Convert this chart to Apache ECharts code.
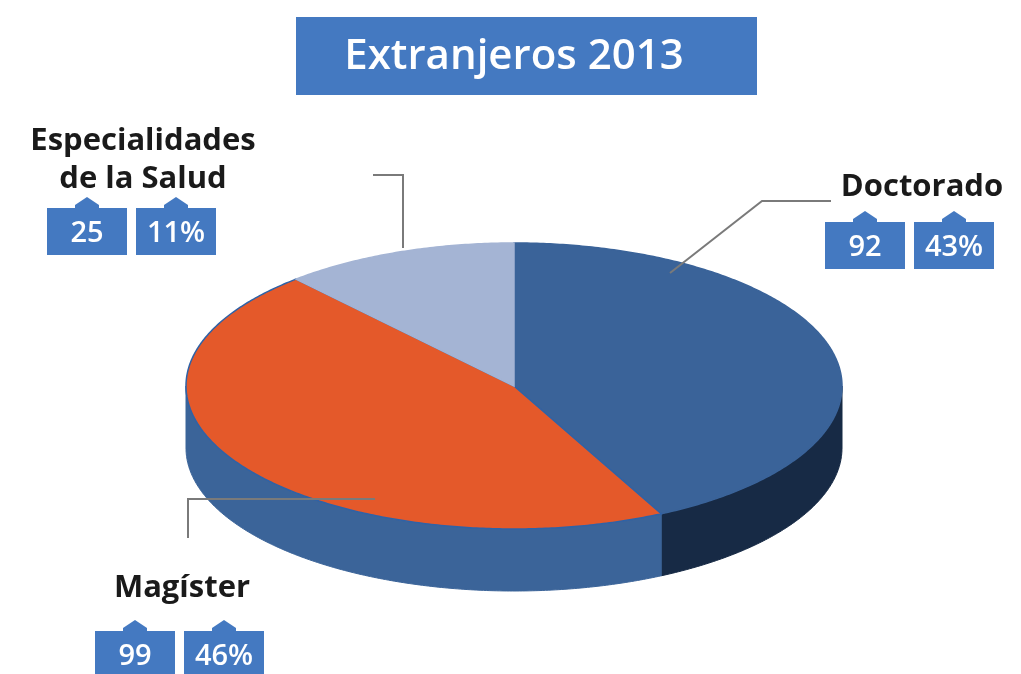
<!DOCTYPE html>
<html>
<head>
<meta charset="utf-8">
<title>Extranjeros 2013</title>
<script src="https://cdn.jsdelivr.net/npm/echarts@6/dist/echarts.min.js"></script>
<style>
html, body { margin: 0; padding: 0; background: #fff; }
#chart { width: 1021px; height: 674px; }
</style>
</head>
<body>
<div id="chart"></div>
<script>
var title = 'Extranjeros 2013';
var categories = ['Doctorado', 'Magíster', 'Especialidades\nde la Salud'];
var values = [92, 99, 25];
var percents = ['43%', '46%', '11%'];

var topColors = ['#3a6399', '#e4592a', '#a4b4d4'];
var sideColors = ['#172a45', '#3b6499', '#7f93b8'];
var boxColor = '#4479c1';

// pie geometry (tilted ellipse)
var cx = 514, cy = 386, rx = 328, ry = 143, depth = 62;

var total = values.reduce(function (a, b) { return a + b; }, 0);
var starts = [];
var acc = 0;
values.forEach(function (v) { starts.push(acc / total * Math.PI * 2); acc += v; });

function pt(a, dy) {
    return [cx + rx * Math.sin(a), cy - ry * Math.cos(a) + (dy || 0)];
}

function arc(a1, a2, dy) {
    var pts = [];
    var n = Math.max(2, Math.ceil((a2 - a1) / 0.01));
    for (var k = 0; k <= n; k++) pts.push(pt(a1 + (a2 - a1) * k / n, dy));
    return pts;
}

function sideItem(params) {
    var i = params.dataIndex;
    var a1 = Math.max(starts[i], Math.PI / 2);
    var a2 = Math.min(starts[i] + values[i] / total * Math.PI * 2, Math.PI * 3 / 2);
    if (a2 <= a1) return;
    var pts = arc(a1, a2, 0).concat(arc(a1, a2, depth).reverse());
    return {
        type: 'polygon',
        shape: { points: pts },
        style: { fill: sideColors[i], stroke: sideColors[i], lineWidth: 1 }
    };
}

function topItem(params) {
    var i = params.dataIndex;
    var a1 = starts[i];
    var a2 = a1 + values[i] / total * Math.PI * 2;
    var pts = [[cx, cy]].concat(arc(a1, a2, 0));
    return {
        type: 'polygon',
        shape: { points: pts },
        style: { fill: topColors[i], stroke: i === 1 ? '#2f62a6' : topColors[i], lineWidth: 1.5 }
    };
}

// label layout: name position, first box position, leader line
var labelLayout = [
    { name: [922, 187], box: [825, 222], line: [[670, 273], [762, 201], [831, 201]] },
    { name: [182, 588], box: [95, 631], line: [[375, 499], [188, 499], [188, 538]] },
    { name: [143, 160], box: [47, 208], line: [[403, 248], [403, 175], [373, 175]] }
];

function box(x, y, text) {
    var w = 80, h = 47, m = x + w / 2;
    return [{
        type: 'polygon',
        shape: { points: [[x, y], [m - 12, y], [m - 12, y - 3], [m, y - 11], [m + 12, y - 3], [m + 12, y], [x + w, y], [x + w, y + h], [x, y + h]] },
        style: { fill: boxColor },
        z: 10
    }, {
        type: 'text',
        x: m, y: y + h / 2 + 2,
        style: { text: text, fill: '#fff', font: '600 29px "Open Sans"', align: 'center', verticalAlign: 'middle' },
        z: 11
    }];
}

var graphics = [{
    type: 'rect',
    shape: { x: 296, y: 17, width: 461, height: 78 },
    style: { fill: boxColor }
}, {
    type: 'text',
    x: 514, y: 57,
    style: { text: title, fill: '#fff', font: '600 42px "Open Sans"', align: 'center', verticalAlign: 'middle' }
}];

categories.forEach(function (c, i) {
    var L = labelLayout[i];
    graphics.push({
        type: 'polyline',
        shape: { points: L.line },
        style: { stroke: '#7a7a7a', lineWidth: 2, fill: null },
        z: 20
    });
    graphics.push({
        type: 'text',
        x: L.name[0], y: L.name[1],
        style: { text: c, fill: '#1a1a1a', font: 'bold 31px "Open Sans"', lineHeight: 38, align: 'center', verticalAlign: 'middle' }
    });
    graphics = graphics.concat(box(L.box[0], L.box[1], String(values[i])));
    graphics = graphics.concat(box(L.box[0] + 89, L.box[1], percents[i]));
});

var chart = echarts.init(document.getElementById('chart'));
chart.setOption({
    backgroundColor: '#fff',
    animation: false,
    graphic: graphics,
    series: [{
        type: 'custom',
        coordinateSystem: 'none',
        z: 1,
        data: values.map(function (v, i) { return [v, i]; }),
        renderItem: sideItem,
        silent: true
    }, {
        type: 'custom',
        coordinateSystem: 'none',
        z: 2,
        data: values.map(function (v, i) { return [v, i]; }),
        renderItem: topItem,
        silent: true
    }]
});
</script>
</body>
</html>
